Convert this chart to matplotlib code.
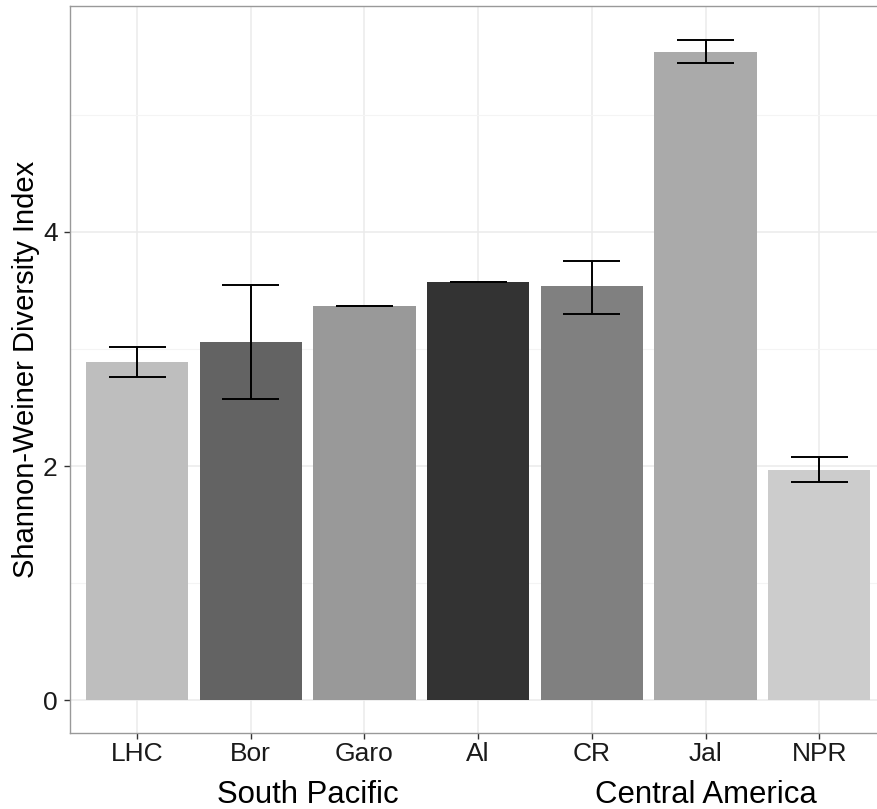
import numpy as np
import matplotlib.pyplot as plt
from matplotlib.ticker import MultipleLocator
import matplotlib.transforms as mtransforms

plt.rcParams['font.family'] = ['Liberation Sans', 'DejaVu Sans']

# data
sites = ['LHC', 'Bor', 'Garo', 'Al', 'CR', 'Jal', 'NPR']
diversity = [2.89, 3.06, 3.37, 3.57, 3.54, 5.54, 1.97]
err_low = [2.76, 2.57, 3.37, 3.57, 3.30, 5.44, 1.86]
err_high = [3.02, 3.55, 3.37, 3.57, 3.75, 5.64, 2.08]
bar_colors = ['#BEBEBE', '#636363', '#999999', '#333333', '#808080', '#AAAAAA', '#CCCCCC']
regions = ['South Pacific', 'Central America']
region_sites = [['LHC', 'Bor', 'Garo', 'Al'], ['CR', 'Jal', 'NPR']]

x = np.arange(1, len(sites) + 1)

fig = plt.figure(figsize=(8.77, 8.09), dpi=100)
ax = fig.add_axes([70 / 877, 76 / 809, 1 - 70 / 877 + 0.012, 727 / 809])

ax.bar(x, diversity, width=0.9, color=bar_colors, zorder=2)
ax.vlines(x, err_low, err_high, color='black', lw=1.4, zorder=3)
ax.hlines(err_low, x - 0.25, x + 0.25, color='black', lw=1.4, zorder=3)
ax.hlines(err_high, x - 0.25, x + 0.25, color='black', lw=1.4, zorder=3)

ax.set_xlim(0.41, 7.6)
ax.set_ylim(-0.28, 5.93)
ax.set_xticks(x)
ax.set_xticklabels(sites)
ax.yaxis.set_major_locator(MultipleLocator(2))
ax.yaxis.set_minor_locator(MultipleLocator(1))

ax.grid(True, which='major', color='#EBEBEB', lw=1.1, zorder=0)
ax.grid(True, which='minor', axis='y', color='#F4F4F4', lw=0.8, zorder=0)
ax.set_axisbelow(True)
for s in ax.spines.values():
    s.set_color('#999999')
    s.set_linewidth(1.0)
ax.tick_params(axis='both', which='major', colors='#333333', length=4, width=1,
               labelsize=19, labelcolor='#1a1a1a')
ax.tick_params(axis='y', which='minor', length=0)
ax.tick_params(axis='x', pad=2.5)
ax.tick_params(axis='y', pad=5)

ax.set_ylabel('Shannon-Weiner Diversity Index', fontsize=21, va='center')
ax.yaxis.set_label_coords(-44 / 817, 0.5)

trans = mtransforms.blended_transform_factory(ax.transData, fig.transFigure)
for name, members in zip(regions, region_sites):
    pos = np.mean([x[sites.index(m)] for m in members])
    ax.text(pos, 6 / 809, name, transform=trans, ha='center', va='baseline', fontsize=22.4)

fig.savefig('out.png', dpi=100)
